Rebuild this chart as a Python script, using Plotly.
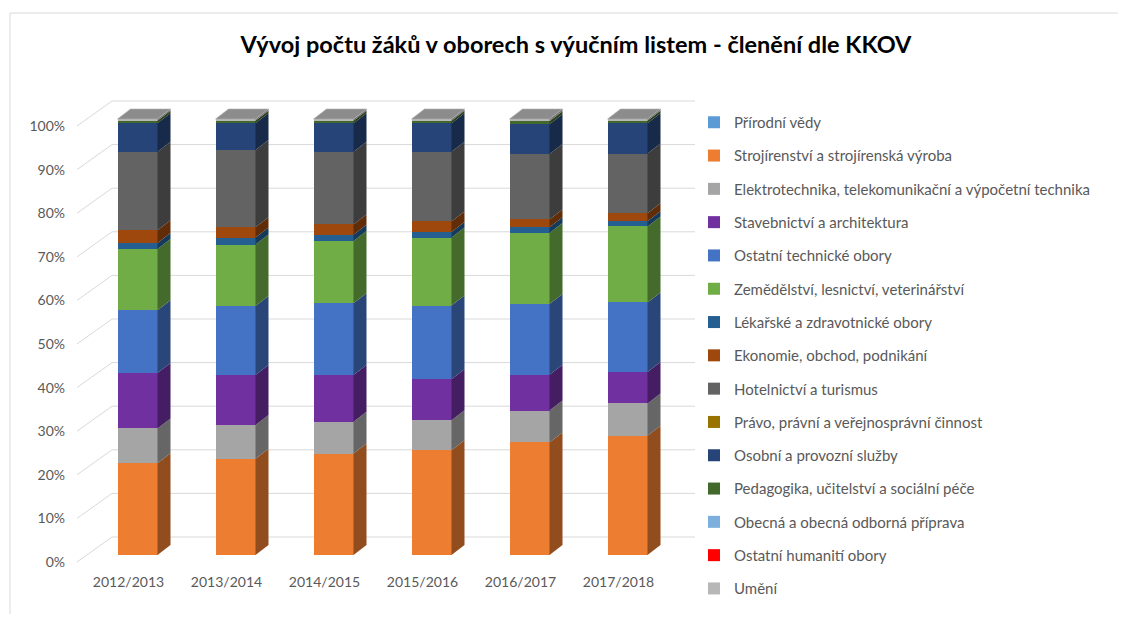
import plotly.graph_objects as go

# ---------------- data ----------------
years = ["2012/2013", "2013/2014", "2014/2015", "2015/2016", "2016/2017", "2017/2018"]

series_names = [
    "Přírodní vědy",
    "Strojírenství a strojírenská výroba",
    "Elektrotechnika, telekomunikační a výpočetní technika",
    "Stavebnictví a architektura",
    "Ostatní technické obory",
    "Zemědělství, lesnictví, veterinářství",
    "Lékařské a zdravotnické obory",
    "Ekonomie, obchod, podnikání",
    "Hotelnictví a turismus",
    "Právo, právní a veřejnosprávní činnost",
    "Osobní a provozní služby",
    "Pedagogika, učitelství a sociální péče",
    "Obecná a obecná odborná příprava",
    "Ostatní humanití obory",
    "Umění",
]

# shares in percent
prirodni = [0.0, 0.0, 0.0, 0.0, 0.0, 0.0]
strojirenstvi = [21.0, 22.1, 23.3, 24.0, 25.8, 27.3]
elektro = [8.0, 7.7, 7.3, 6.9, 7.3, 7.4]
stavebnictvi = [12.7, 11.5, 10.7, 9.4, 8.2, 7.2]
ostatni_tech = [14.4, 15.8, 16.5, 16.9, 16.2, 15.9]
zemedelstvi = [14.0, 14.1, 14.3, 15.6, 16.3, 17.4]
lekarske = [1.4, 1.6, 1.4, 1.3, 1.3, 1.2]
ekonomie = [2.9, 2.4, 2.4, 2.4, 1.8, 1.8]
hotelnictvi = [18.0, 17.7, 16.7, 16.0, 15.0, 13.7]
pravo = [0.0, 0.0, 0.0, 0.0, 0.0, 0.0]
osobni = [6.5, 6.1, 6.5, 6.5, 6.8, 6.9]
pedagogika = [0.6, 0.6, 0.6, 0.6, 0.7, 0.6]
obecna = [0.0, 0.0, 0.0, 0.0, 0.0, 0.0]
humanitni = [0.0, 0.0, 0.0, 0.0, 0.0, 0.0]
umeni = [0.4, 0.4, 0.4, 0.4, 0.5, 0.4]

series_values = [prirodni, strojirenstvi, elektro, stavebnictvi, ostatni_tech,
                 zemedelstvi, lekarske, ekonomie, hotelnictvi, pravo, osobni,
                 pedagogika, obecna, humanitni, umeni]

colors = ["#5B9BD5", "#ED7D31", "#A5A5A5", "#7030A0", "#4472C4", "#70AD47",
          "#255E91", "#9E480E", "#636363", "#997300", "#264478", "#43682B",
          "#7CAFDD", "#FF0000", "#B7B7B7"]

y_ticks = list(range(0, 101, 10))


def darken(hexc, f=0.62):
    r, g, b = int(hexc[1:3], 16), int(hexc[3:5], 16), int(hexc[5:7], 16)
    return "#%02x%02x%02x" % (int(r * f), int(g * f), int(b * f))


# ---------------- layout geometry (page pixels) ----------------
OFF = 8                      # page body margin
FW, FH = 1126 - 2 * OFF, 622 - 2 * OFF
PL, PR, PT, PB = 112, 695, 88, 572
PW, PH = PR - PL, PB - PT
S = 4.36                     # px per percent
X0, DXPX = 137.5, 98.0       # px of first category, px per category
ZERO_FRONT = 555             # bar front face 0 %
ZERO_BACK = 537              # back wall 0 %
ZERO_LABEL = 562             # label plane 0 %

yr = [-(PB - ZERO_FRONT) / S, (ZERO_FRONT - PT) / S]
xr = [(PL - X0) / DXPX, (PR - X0) / DXPX]
bw = 40 / DXPX
hw = bw / 2
ddx = 13 / DXPX
ddy = 10 / S

# normalise to 100 %
n = len(years)
totals = [sum(s[i] for s in series_values) for i in range(n)]
norm = [[s[i] / totals[i] * 100 for i in range(n)] for s in series_values]

fig = go.Figure()
xs = list(range(n))

# front faces
for name, vals, col in zip(series_names, norm, colors):
    fig.add_trace(go.Bar(
        x=xs, y=vals, name=name, marker=dict(color=col, line=dict(width=0)),
        width=bw, legendgroup=name,
    ))

# side faces
base = [0.0] * n
for name, vals, col in zip(series_names, norm, colors):
    px, py = [], []
    for i in range(n):
        y0, y1 = base[i], base[i] + vals[i]
        if vals[i] > 0:
            px += [i + hw, i + hw + ddx, i + hw + ddx, i + hw, i + hw, None]
            py += [y0, y0 + ddy, y1 + ddy, y1, y0, None]
        base[i] = y1
    if px:
        fig.add_trace(go.Scatter(
            x=px, y=py, mode="lines", fill="toself", fillcolor=darken(col),
            line=dict(width=0), showlegend=False, hoverinfo="skip",
        ))

# top faces
tx, ty = [], []
for i in range(n):
    t = base[i]
    tx += [i - hw, i + hw, i + hw + ddx, i - hw + ddx, i - hw, None]
    ty += [t, t, t + ddy, t + ddy, t, None]
fig.add_trace(go.Scatter(
    x=tx, y=ty, mode="lines", fill="toself", fillcolor="#8c8c8c",
    line=dict(width=0.6, color="#b0b0b0"), showlegend=False, hoverinfo="skip",
))

shapes = []
back_shift = (ZERO_FRONT - ZERO_BACK) / S
for v in y_ticks:
    # back-wall gridline
    shapes.append(dict(type="line", xref="paper", yref="y", layer="below",
                       x0=0, x1=1, y0=v + back_shift, y1=v + back_shift,
                       line=dict(color="#d9d9d9", width=1)))
    # side-wall stub
    yf_front = (PB - (ZERO_LABEL - v * S)) / PH
    yf_back = (PB - (ZERO_BACK - v * S)) / PH
    shapes.append(dict(type="line", xref="paper", yref="paper", layer="below",
                       x0=(77 - PL) / PW, y0=yf_front, x1=0, y1=yf_back,
                       line=dict(color="#d9d9d9", width=1)))
# chart border
shapes.append(dict(type="rect", xref="paper", yref="paper", layer="below",
                   x0=(10 - PL) / PW, y0=(PB - 13) / PH, x1=(1140 - PL) / PW, y1=(PB - 640) / PH,
                   line=dict(color="#d9d9d9", width=1)))

font_main = "Lato, 'Open Sans', sans-serif"
label_shift = (ZERO_LABEL - ZERO_FRONT) / S

fig.update_layout(
    width=FW, height=FH,
    margin=dict(l=PL - OFF, r=FW + OFF - PR, t=PT - OFF, b=FH + OFF - PB, autoexpand=False),
    paper_bgcolor="white", plot_bgcolor="rgba(0,0,0,0)",
    barmode="stack",
    title=dict(text="<b>Vývoj počtu žáků v oborech s výučním listem - členění dle KKOV</b>",
               x=(576 - OFF) / FW, xref="container", xanchor="center",
               y=1 - (45 - OFF) / FH, yref="container", yanchor="middle",
               font=dict(family=font_main, size=23.5, color="#000000")),
    xaxis=dict(range=xr, tickvals=[i - 9 / DXPX for i in xs], ticktext=years,
               showgrid=False, zeroline=False, showline=False, ticks="",
               tickfont=dict(family=font_main, size=14, color="#595959")),
    yaxis=dict(range=yr, tickvals=[v - label_shift for v in y_ticks],
               ticktext=[f"{v}%" for v in y_ticks], showgrid=False,
               zeroline=False, showline=False, ticks="", ticklabelstandoff=46,
               tickfont=dict(family=font_main, size=14, color="#595959")),
    legend=dict(x=(694 - PL) / PW, xanchor="left", y=(PB - 106) / PH, yanchor="top",
                traceorder="grouped", tracegroupgap=10.8, bgcolor="rgba(0,0,0,0)",
                maxheight=900,
                font=dict(family=font_main, size=15, color="#595959")),
    shapes=shapes,
    showlegend=True,
)

fig.write_html("out.html")
